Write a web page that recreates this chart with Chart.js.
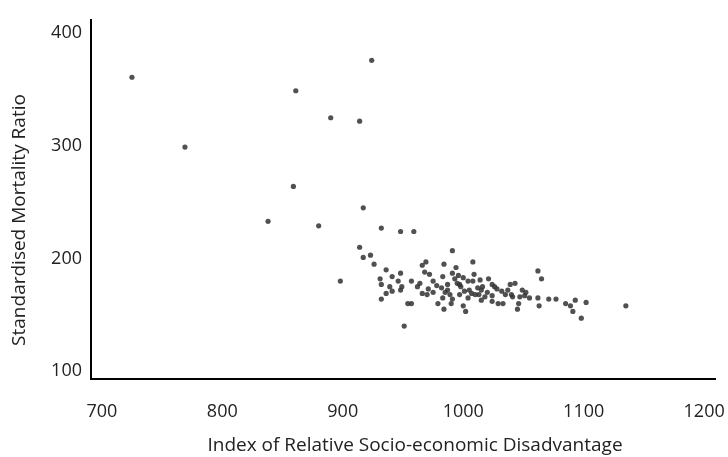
<!DOCTYPE html>
<html>
<head>
<meta charset="utf-8">
<script src="https://cdn.jsdelivr.net/npm/chart.js@4"></script>
<style>
  html, body { margin: 0; padding: 0; background: #fff; }
  #wrap { width: 728px; height: 457px; }
</style>
</head>
<body>
<div id="wrap"><canvas id="smrChart" width="728" height="457"></canvas></div>
<script>
// Index of Relative Socio-economic Disadvantage (x) and Standardised Mortality Ratio (y)
const irsd = [
  725, 769, 861, 924, 890, 914, 859, 917, 838, 880, 932, 948, 959, 898, 951, 1135,
  914, 917, 923, 926, 966, 969, 936, 948, 941, 931, 946, 957, 932, 939, 949, 936,
  941, 948, 962, 966, 971, 972, 975, 968, 932, 954, 957, 979,
  991, 1008, 984, 994, 991, 983, 993, 987, 982, 997, 1004, 1008, 1014, 1021, 1024, 1016,
  1012, 1007, 1013, 1001, 997, 989, 983, 991, 1000, 984, 1002, 1032, 1039, 1024, 1024, 1029,
  1033, 1046, 1051, 1055, 1062, 1045, 1062,
  1065, 1063, 1071, 1077, 1085, 1089, 1093, 1102, 1091, 1098,
  1015, 1026, 998, 1004, 1018, 987, 1035, 1041, 975, 964, 1049, 1043, 996, 1009,
  1005, 1010, 1020, 1028, 1000, 995, 985, 978, 1040, 1037, 1015, 990, 970, 1052, 1047
];
const smr = [
  361, 299, 349, 376, 325, 322, 264, 245, 233, 229, 227, 224, 224, 180, 140, 158,
  210, 201, 203, 195, 194, 197, 190, 187, 184, 182, 180, 180, 177, 175, 175, 169,
  171, 172, 175, 169, 173, 186, 180, 188, 164, 160, 160, 160,
  207, 197, 195, 192, 187, 184, 182, 177, 174, 177, 180, 180, 181, 182, 177, 175,
  174, 169, 168, 171, 168, 168, 165, 164, 158, 155, 153, 171, 177, 167, 162, 160,
  160, 160, 167, 165, 165, 155, 189,
  182, 158, 164, 164, 160, 158, 163, 161, 153, 147,
  172, 175, 175, 165, 166, 172, 168, 166, 170, 178, 172, 178, 185, 186,
  172, 168, 170, 173, 183, 178, 170, 176, 168, 172, 163, 160, 168, 170, 166
];

const xTickValues = [700, 800, 900, 1000, 1100, 1200];
const yTickValues = [100, 200, 300, 400];

const xTitle = 'Index of Relative Socio-economic Disadvantage';
const yTitle = 'Standardised Mortality Ratio';

const points = irsd.map((x, i) => ({ x: x, y: smr[i] }));

const tickFont = { family: '"Open Sans", sans-serif', size: 18 };

// axis titles drawn by hand so they sit where the picture has them
const axisTitles = {
  id: 'axisTitles',
  afterDraw(chart) {
    const ctx = chart.ctx;
    ctx.save();
    ctx.fillStyle = '#222';
    ctx.textAlign = 'center';
    ctx.textBaseline = 'middle';
    ctx.font = '19px "Open Sans", sans-serif';
    ctx.fillText(xTitle, 415, 446);
    ctx.translate(20, 220);
    ctx.rotate(-Math.PI / 2);
    ctx.fillText(yTitle, 0, 0);
    ctx.restore();
  }
};

new Chart(document.getElementById('smrChart'), {
  type: 'scatter',
  data: {
    datasets: [{
      data: points,
      pointRadius: 2.6,
      pointBorderWidth: 0,
      backgroundColor: 'rgba(50,50,50,0.85)'
    }]
  },
  options: {
    responsive: false,
    animation: false,
    layout: { padding: { top: 14, right: 13, left: 0, bottom: 0 } },
    plugins: { legend: { display: false }, tooltip: { enabled: false } },
    scales: {
      x: {
        type: 'linear',
        min: 691,
        max: 1209,
        afterBuildTicks: s => { s.ticks = xTickValues.map(v => ({ value: v })); },
        afterFit: s => { s.height = 78; s.paddingLeft = 0; s.paddingRight = 0; },
        ticks: {
          callback: v => String(v),
          padding: 22,
          autoSkip: false,
          maxRotation: 0,
          color: '#222',
          font: tickFont
        },
        grid: { display: false, drawTicks: false },
        border: { color: '#000', width: 2 }
      },
      y: {
        min: 93,
        max: 412,
        afterBuildTicks: s => { s.ticks = yTickValues.map(v => ({ value: v })); },
        afterFit: s => { s.width = 91; },
        ticks: {
          callback: v => String(v),
          padding: 9,
          color: '#222',
          font: tickFont
        },
        grid: { display: false, drawTicks: false },
        border: { color: '#000', width: 2 }
      }
    }
  },
  plugins: [axisTitles]
});
</script>
</body>
</html>
